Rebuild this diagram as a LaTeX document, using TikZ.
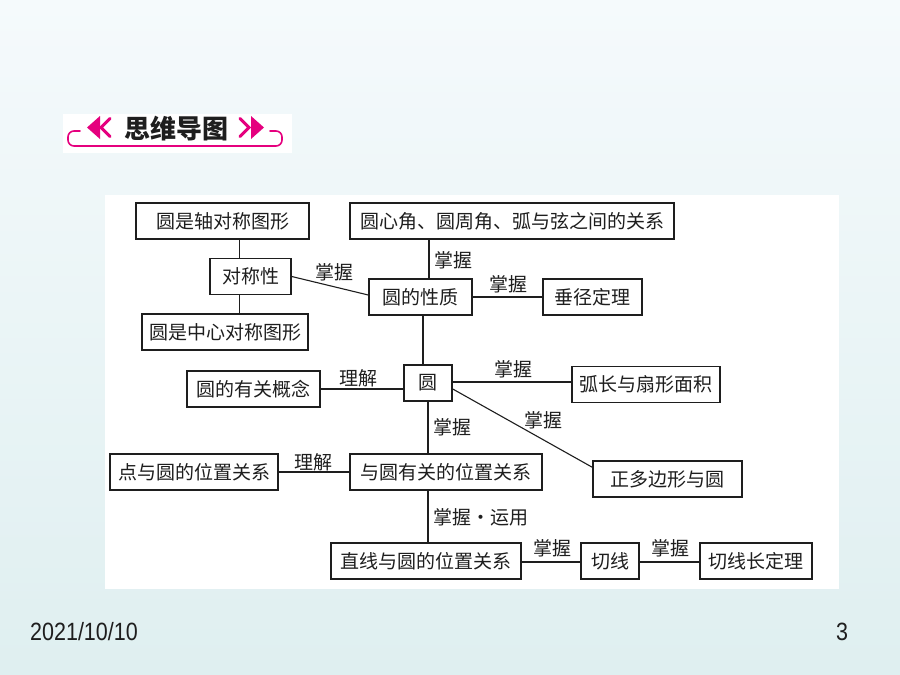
\documentclass[tikz,border=0pt]{standalone}
\usepackage{fontspec}
\usepackage{graphicx}
\setmainfont{Liberation Sans}
\newfontfamily\cjk{Noto Sans CJK SC}
\definecolor{bgtop}{HTML}{F5FAFC}
\definecolor{bgbot}{HTML}{DFEFF0}
\definecolor{pinkc}{HTML}{E5007E}
\definecolor{ink}{HTML}{1E1E1E}
\begin{document}
\begin{tikzpicture}[x=1pt,y=-1pt,
  box/.style={draw=ink, line width=1.5pt, fill=white, inner sep=0pt,
    minimum height=36pt, font=\cjk\fontsize{19}{19}\selectfont, text=ink},
  lab/.style={inner sep=0pt, font=\cjk\fontsize{19}{19}\selectfont, text=ink},
  conn/.style={draw=ink, line width=1.1pt}]
\useasboundingbox (0,0) rectangle (900,675);
\shade[top color=bgtop, bottom color=bgbot] (0,0) rectangle (900,675);
% panel
\fill[white] (105,195) rectangle (839,589);
% header
\fill[white] (63,114) rectangle (292,153);
\draw[pinkc, line width=1.6pt, line cap=round]
  (80,131) -- (74,131) arc[start angle=270, end angle=180, radius=6]
  -- (68,140) arc[start angle=180, end angle=90, radius=6]
  -- (276,146) arc[start angle=90, end angle=0, radius=6]
  -- (282,137) arc[start angle=0, end angle=-90, radius=6] -- (270,131);
\fill[pinkc] (87,127.5) -- (100,116) -- (100,139) -- cycle;
\draw[pinkc, line width=3pt, line cap=round, line join=miter] (110,118.5) -- (101,127.5) -- (110,136.5);
\fill[pinkc] (264,127.5) -- (251,116) -- (251,139) -- cycle;
\draw[pinkc, line width=3pt, line cap=round, line join=miter] (240,118.5) -- (249,127.5) -- (240,136.5);
\node[inner sep=0pt, font=\cjk\bfseries\fontsize{26}{26}\selectfont, text=ink] (title) at (176,129) {思维导图};
% boxes
\node[box, minimum width=173pt] (b1) at (222.5,221) {圆是轴对称图形};
\node[box, minimum width=81pt] (b2) at (250.5,276.5) {对称性};
\node[box, minimum width=166pt] (b3) at (225,332) {圆是中心对称图形};
\node[box, minimum width=103pt] (b4) at (420.5,297) {圆的性质};
\node[box, minimum width=324pt] (b5) at (512,221) {圆心角、圆周角、弧与弦之间的关系};
\node[box, minimum width=99pt] (b6) at (592.5,297) {垂径定理};
\node[box, minimum width=133pt] (b7) at (253.5,389) {圆的有关概念};
\node[box, minimum width=48pt] (b8) at (428,383) {圆};
\node[box, minimum width=148pt] (b9) at (646,384.5) {弧长与扇形面积};
\node[box, minimum width=149pt] (b10) at (667.5,479) {正多边形与圆};
\node[box, minimum width=168pt] (b11) at (194,472) {点与圆的位置关系};
\node[box, minimum width=192pt] (b12) at (446,472) {与圆有关的位置关系};
\node[box, minimum width=190pt] (b13) at (426,561) {直线与圆的位置关系};
\node[box, minimum width=58pt] (b14) at (610,561) {切线};
\node[box, minimum width=112pt] (b15) at (756,561) {切线长定理};
% connectors
\draw[conn] ([xshift=30pt]b2.north west) -- ([xshift=30pt]b2.north west |- b1.south);
\draw[conn] ([xshift=30pt]b2.south west) -- ([xshift=30pt]b2.south west |- b3.north);
\draw[conn] (b2.east) -- ([yshift=2pt]b4.west);
\draw[conn] ([xshift=8.5pt]b4.north) -- ([xshift=8.5pt]b4.north |- b5.south);
\draw[conn] (b4.east) -- (b6.west);
\draw[conn] ([xshift=2.5pt]b4.south) -- ([xshift=2.5pt]b4.south |- b8.north);
\draw[conn] (b7.east) -- (b7.east -| b8.west);
\draw[conn] ([yshift=1pt]b8.east) -- ([yshift=1pt]b8.east -| b9.west);
\draw[conn] ([yshift=-6pt]b8.east) -- ([yshift=-7pt]b10.north west);
\draw[conn] (b8.south) -- (b8.south |- b12.north);
\draw[conn] (b11.east) -- (b12.west);
\draw[conn] (b8.south |- b12.south) -- (b8.south |- b13.north);
\draw[conn] ([yshift=-1pt]b13.east) -- ([yshift=-1pt]b14.west);
\draw[conn] ([yshift=-1pt]b14.east) -- ([yshift=-1pt]b15.west);
% labels
\node[lab] (l1) at (334,272) {掌握};
\node[lab] (l2) at (453.5,260) {掌握};
\node[lab] (l3) at (508,284) {掌握};
\node[lab] (l4) at (358,378) {理解};
\node[lab] (l5) at (513,369) {掌握};
\node[lab] (l6) at (543,420) {掌握};
\node[lab] (l7) at (452,427) {掌握};
\node[lab] (l8) at (313,462) {理解};
\node[lab] (l9) at (481,517) {掌握・运用};
\node[lab] (l10) at (552,548) {掌握};
\node[lab] (l11) at (670,548) {掌握};
% footer
\node[inner sep=0pt, anchor=west, font=\fontsize{25}{25}\selectfont, text=ink] (date) at (30,632) {\scalebox{0.86}[1]{2021/10/10}};
\node[inner sep=0pt, font=\fontsize{25}{25}\selectfont, text=ink] (page) at (842,632) {\scalebox{0.86}[1]{3}};
\end{tikzpicture}
\end{document}
